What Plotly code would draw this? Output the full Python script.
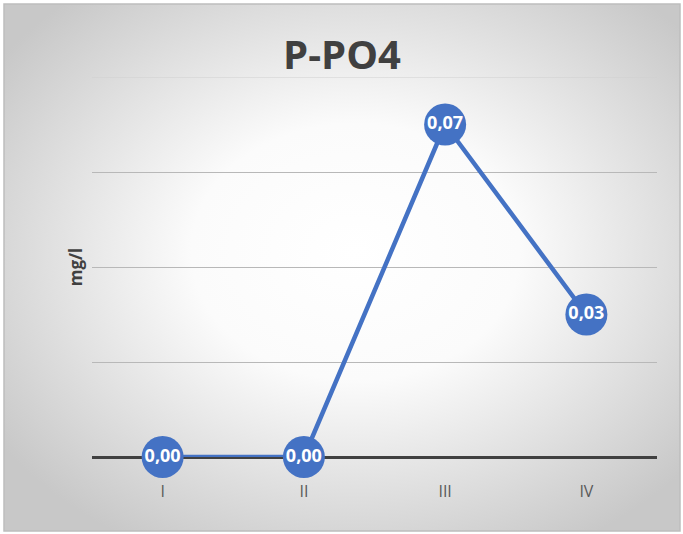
import base64
import plotly.graph_objects as go

categories = ["I", "II", "III", "IV"]
values = [0.00, 0.00, 0.07, 0.03]
y_ticks = [0, 0.02, 0.04, 0.06, 0.08]
title_text = "P-PO4"
y_title = "mg/l"

W, H = 683, 534
L, R, T, B = 92, 26, 77, 77
pw, ph = W - L - R, H - T - B

svg = (
    '<svg xmlns="http://www.w3.org/2000/svg" width="676" height="527" viewBox="0 0 676 527" preserveAspectRatio="none">'
    '<defs><radialGradient id="g" cx="52%" cy="47%" r="64%">'
    '<stop offset="0" stop-color="#ffffff"/>'
    '<stop offset="0.38" stop-color="#fbfbfb"/>'
    '<stop offset="1" stop-color="#c8c8c8"/>'
    '</radialGradient></defs>'
    '<rect width="676" height="527" fill="url(#g)"/></svg>'
)
src = "data:image/svg+xml;base64," + base64.b64encode(svg.encode()).decode()

def px_to_paper_x(px):
    return (px - L) / pw

def px_to_paper_y(py):
    return (H - B - py) / ph

x0, x1, y0, y1 = 4, 680, 4, 531

fig = go.Figure()
fig.add_trace(go.Scatter(
    x=categories, y=values, mode="lines+markers+text",
    line=dict(color="#4472C4", width=4.5),
    marker=dict(size=42, color="#4472C4"),
    texttemplate="%{y:.2f}", textposition="middle center",
    textfont=dict(color="white", size=18, family="Open Sans", weight="bold"),
    cliponaxis=False, hoverinfo="skip",
))

fig.update_layout(
    width=W, height=H,
    margin=dict(l=L, r=R, t=T, b=B),
    paper_bgcolor="white", plot_bgcolor="rgba(0,0,0,0)",
    separators=",.",
    showlegend=False,
    title=dict(text="<b>" + title_text + "</b>", x=342 / W, xanchor="center",
               y=1 - 55 / H, yanchor="middle",
               font=dict(family="Open Sans", size=40, color="#404040")),
    xaxis=dict(range=[-0.5, 3.5], showgrid=False, zeroline=False, showline=False,
               ticks="outside", ticklen=20, tickcolor="rgba(0,0,0,0)",
               tickfont=dict(family="Open Sans", size=16, color="#595959")),
    yaxis=dict(range=[0, max(y_ticks)], tickvals=y_ticks, showticklabels=False,
               showgrid=True, gridcolor="#b8b8b8", gridwidth=1,
               zeroline=True, zerolinecolor="#404040", zerolinewidth=3,
               title=dict(text="<b>" + y_title + "</b>", standoff=4,
                          font=dict(family="Open Sans", size=17, color="#404040"))),
    images=[dict(source=src, xref="paper", yref="paper",
                 x=px_to_paper_x(x0), y=px_to_paper_y(y0),
                 sizex=(x1 - x0) / pw, sizey=(y1 - y0) / ph,
                 sizing="stretch", xanchor="left", yanchor="top", layer="below")],
    shapes=[dict(type="rect", xref="paper", yref="paper",
                 x0=px_to_paper_x(x0), x1=px_to_paper_x(x1),
                 y0=px_to_paper_y(y1), y1=px_to_paper_y(y0),
                 line=dict(color="#bdbdbd", width=1.5), layer="below"),
            dict(type="line", xref="paper", yref="y", x0=0, x1=1,
                 y0=max(y_ticks), y1=max(y_ticks),
                 line=dict(color="#d0d0d0", width=1), layer="below")],
)

fig.write_html("out.html", config={"displayModeBar": False},
               post_script="document.body.style.margin='0px';document.body.style.overflow='hidden';")
